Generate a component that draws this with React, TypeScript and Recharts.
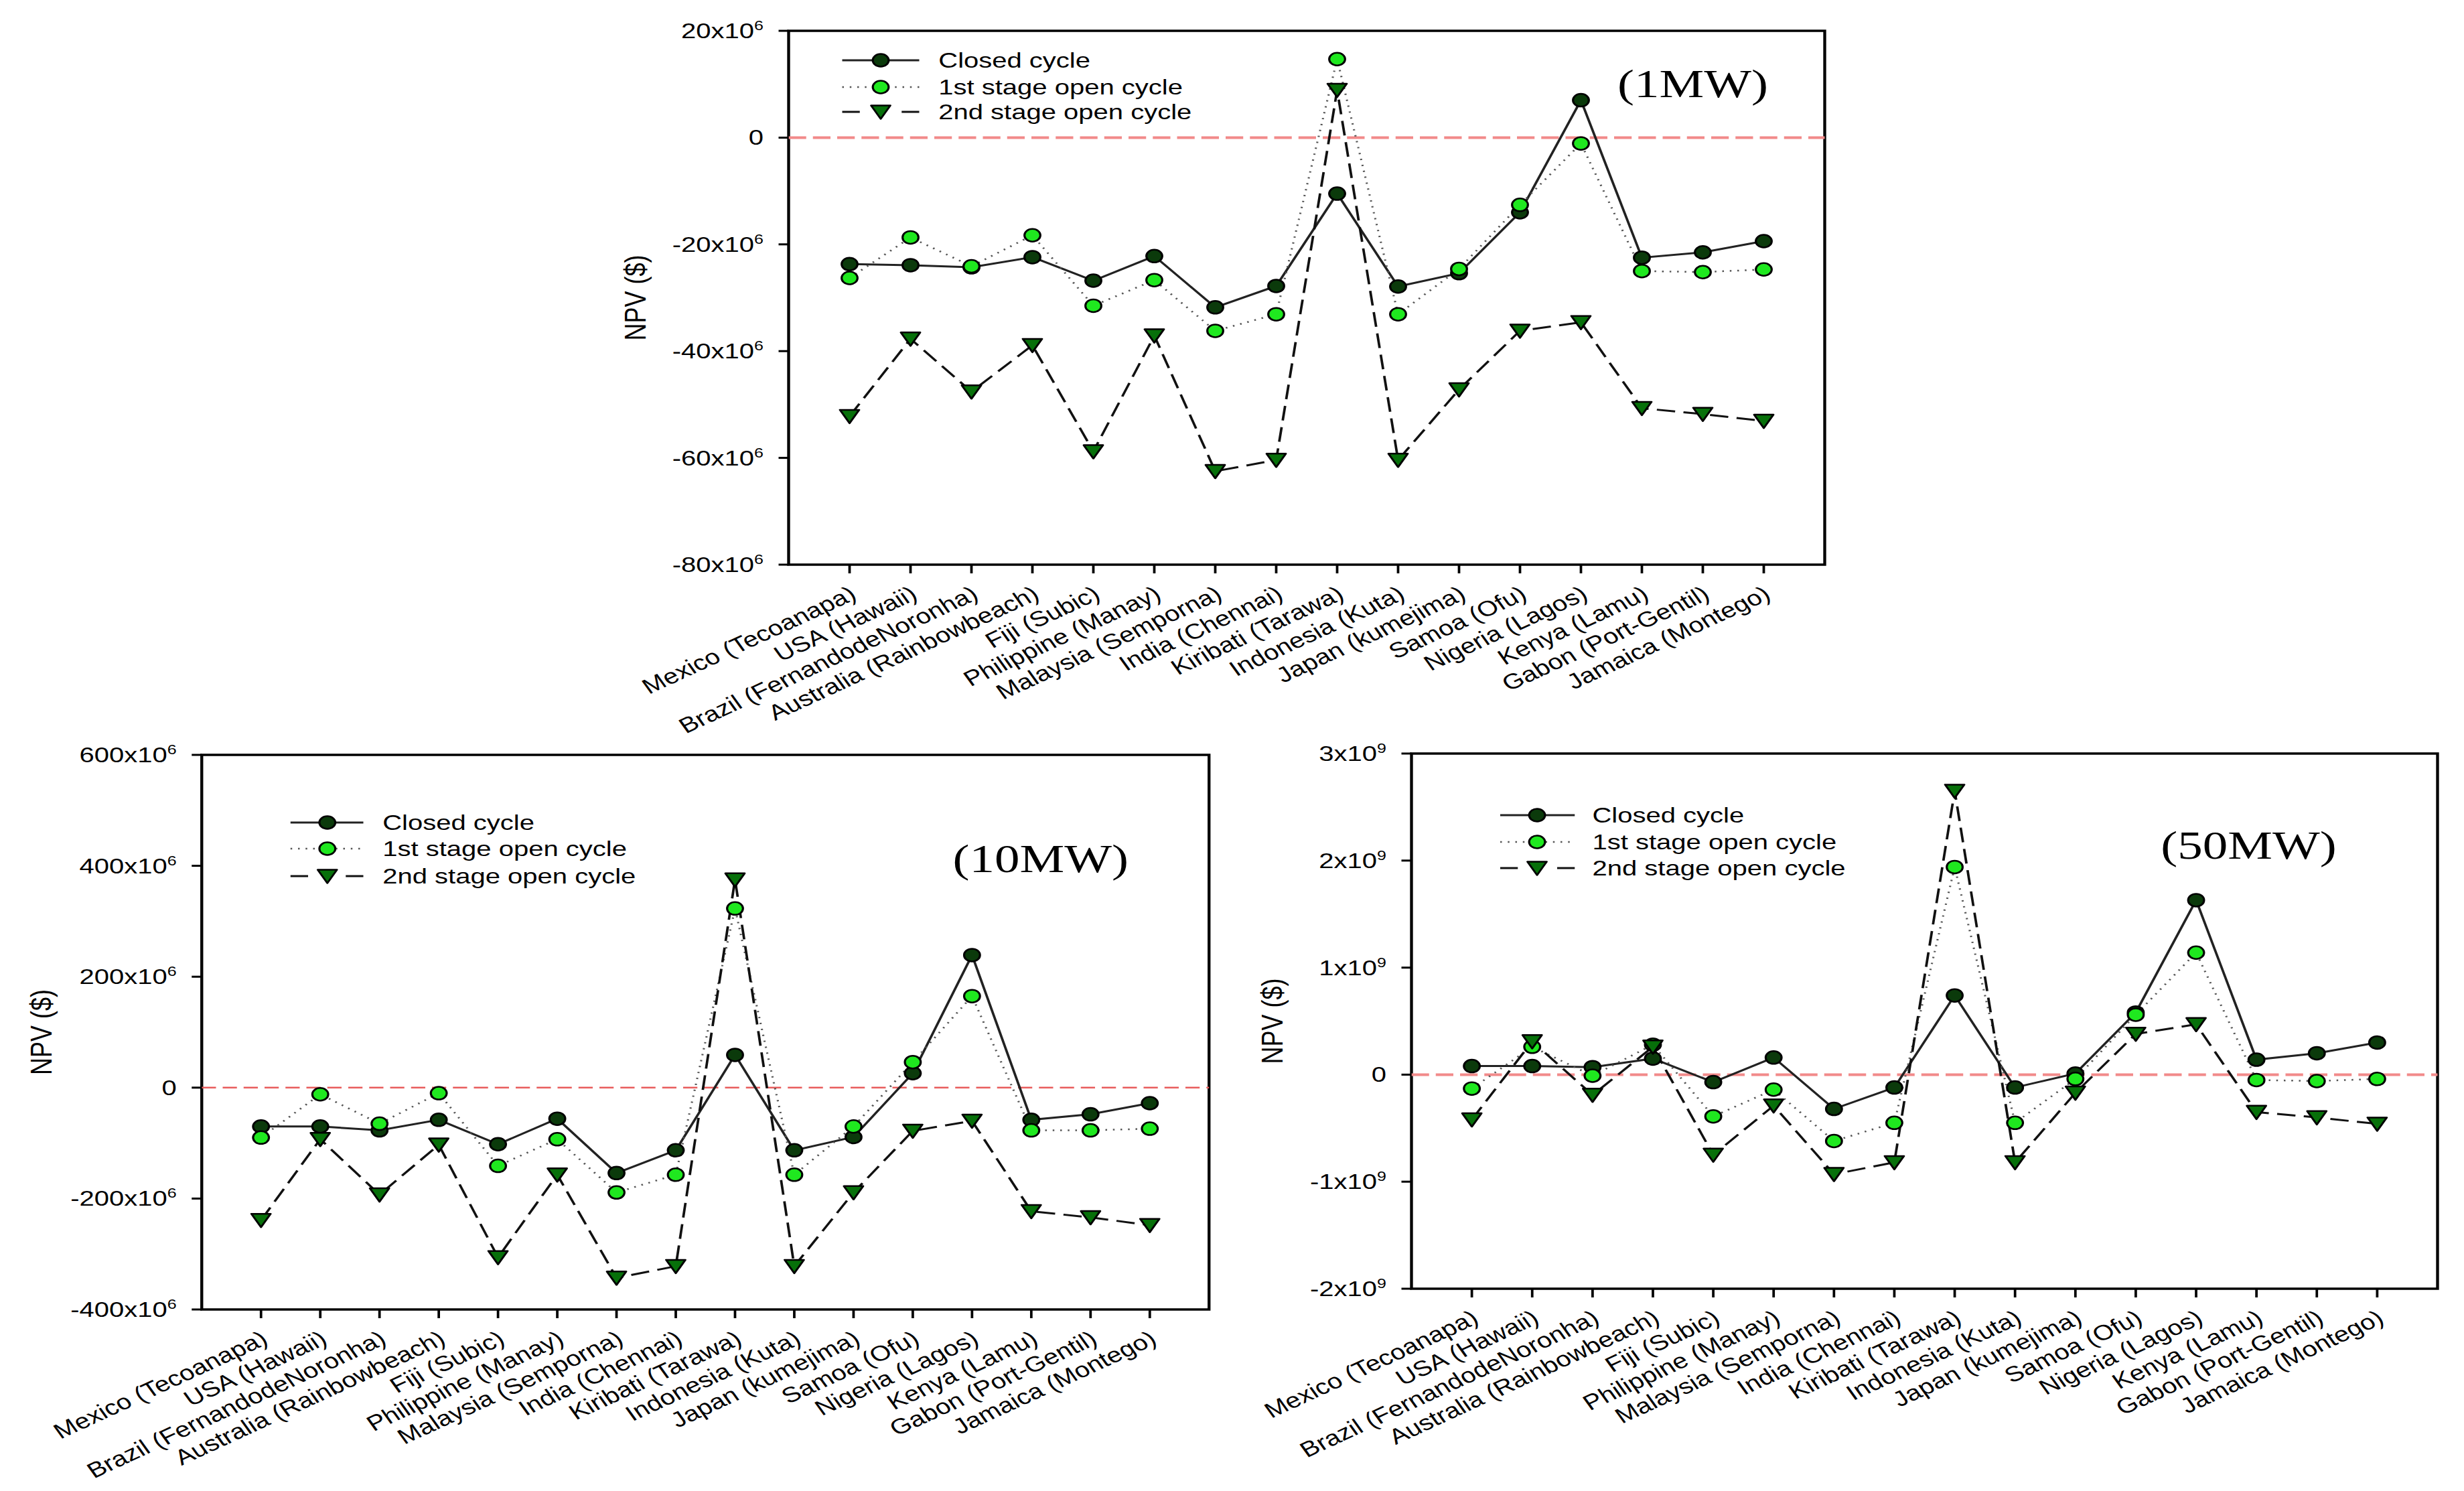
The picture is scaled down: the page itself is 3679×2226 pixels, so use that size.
import React from 'react';
import { LineChart, Line, XAxis, YAxis, ReferenceLine, ReferenceArea, Legend, Label } from 'recharts';

// The source figure is horizontally stretched; we draw in unstretched space and stretch the page.
const SX = 1.25;
const FONT = '"Liberation Sans", Arial, Helvetica, sans-serif';
const SERIF = '"Liberation Serif", "Times New Roman", serif';

const categories = [
  'Mexico (Tecoanapa)',
  'USA (Hawaii)',
  'Brazil (FernandodeNoronha)',
  'Australia (Rainbowbeach)',
  'Fiji (Subic)',
  'Philippine (Manay)',
  'Malaysia (Semporna)',
  'India (Chennai)',
  'Kiribati (Tarawa)',
  'Indonesia (Kuta)',
  'Japan (kumejima)',
  'Samoa (Ofu)',
  'Nigeria (Lagos)',
  'Kenya (Lamu)',
  'Gabon (Port-Gentil)',
  'Jamaica (Montego)',
];

const seriesNames = ['Closed cycle', '1st stage open cycle', '2nd stage open cycle'];

// 1 MW, values in 10^6 $
const closed1MW = [-23.7, -23.9, -24.3, -22.4, -26.8, -22.2, -31.8, -27.8, -10.5, -27.9, -25.4, -14.0, 7.0, -22.5, -21.5, -19.4];
const first1MW = [-26.3, -18.7, -24.1, -18.3, -31.5, -26.7, -36.2, -33.1, 14.7, -33.1, -24.6, -12.6, -1.1, -25.0, -25.2, -24.7];
const second1MW = [-52.2, -37.7, -47.6, -38.9, -58.8, -37.1, -62.5, -60.4, 8.9, -60.4, -47.2, -36.2, -34.6, -50.7, -51.8, -53.1];
const yTicks1MW = [20, 0, -20, -40, -60, -80];

// 10 MW, values in 10^6 $
const closed10MW = [-70, -70, -77, -58, -102, -56, -154, -113, 59, -113, -89, 26, 239, -58, -48, -28];
const first10MW = [-90, -12, -65, -10, -141, -93, -189, -157, 323, -157, -70, 46, 165, -77, -77, -74];
const second10MW = [-239, -93, -193, -103, -306, -157, -343, -322, 375, -322, -189, -78, -60, -223, -234, -248];
const yTicks10MW = [600, 400, 200, 0, -200, -400];

// 50 MW, values in 10^9 $
const closed50MW = [0.08, 0.08, 0.07, 0.15, -0.07, 0.16, -0.32, -0.12, 0.74, -0.12, 0.01, 0.58, 1.63, 0.14, 0.2, 0.3];
const first50MW = [-0.13, 0.26, -0.01, 0.28, -0.39, -0.14, -0.62, -0.45, 1.94, -0.45, -0.04, 0.56, 1.14, -0.05, -0.06, -0.04];
const second50MW = [-0.42, 0.31, -0.19, 0.26, -0.75, -0.29, -0.93, -0.82, 2.65, -0.82, -0.17, 0.38, 0.47, -0.35, -0.4, -0.46];
const yTicks50MW = [3, 2, 1, 0, -1, -2];

const catIndex = categories.map((_, i) => i);

const DARK = '#0b3a0b';
const LIGHT = '#1fe81f';
const MID = '#07700a';

const circleDot = (fill: string) => (props: any) => {
  const { cx, cy, index } = props;
  if (cx == null || cy == null) return <g key={`n-${index}`} />;
  return <circle key={`c-${fill}-${index}`} cx={cx} cy={cy} r={9.5} fill={fill} stroke="#000" strokeWidth={2.5} />;
};

const triPoints = (cx: number, cy: number) => `${cx - 11.5},${cy - 9.5} ${cx + 11.5},${cy - 9.5} ${cx},${cy + 10.5}`;

const triDot = (props: any) => {
  const { cx, cy, index } = props;
  if (cx == null || cy == null) return <g key={`n-${index}`} />;
  return <polygon key={`t-${index}`} points={triPoints(cx, cy)} fill={MID} stroke="#000" strokeWidth={2.5} strokeLinejoin="round" />;
};

const XTick = (props: any) => {
  const { x, y, payload } = props;
  const bx = x + 10;
  const by = y + 37;
  return (
    <text
      x={bx}
      y={by}
      transform={`rotate(-30, ${bx}, ${by})`}
      textAnchor="end"
      fontFamily={FONT}
      fontSize={32}
      fill="#000"
    >
      {categories[payload.value]}
    </text>
  );
};

const makeYTick = (exp: number) => (props: any) => {
  const { x, y, payload } = props;
  const v = payload.value;
  if (v === 0) {
    return (
      <text x={x} y={y} dy={11} textAnchor="end" fontFamily={FONT} fontSize={32} fill="#000">
        0
      </text>
    );
  }
  return (
    <text x={x} y={y} dy={11} textAnchor="end" fontFamily={FONT} fontSize={32} fill="#000">
      {`${v}x10`}
      <tspan dy={-12} fontSize={20}>
        {String(exp)}
      </tspan>
    </text>
  );
};

type LegendGeom = { x1: number; x2: number; mx: number; tx: number; rows: number[] };

type PanelProps = {
  plotLeft: number;
  plotTop: number;
  plotW: number;
  plotH: number;
  yMin: number;
  yMax: number;
  yTicks: number[];
  exp: number;
  closed: number[];
  first: number[];
  second: number[];
  xh: number;
  legend: LegendGeom;
  title: string;
  titleX: number;
  titleY: number;
  yLabelX: number;
  refStroke: string;
  refWidth: number;
  refDash: string;
};

function Panel(p: PanelProps) {
  const YW = 230;
  const MT = 40;
  const MR = 10;
  const width = YW + p.plotW + MR;
  const height = MT + p.plotH + p.xh;
  const data = categories.map((c, i) => ({ i, name: c, closed: p.closed[i], first: p.first[i], second: p.second[i] }));
  const lg = p.legend;

  const legendContent = () => (
    <svg width={p.plotW} height={p.plotH} style={{ overflow: 'visible', pointerEvents: 'none', display: 'block' }}>
      {/* Closed cycle */}
      <line x1={lg.x1} x2={lg.x2} y1={lg.rows[0]} y2={lg.rows[0]} stroke="#222" strokeWidth={3} />
      <circle cx={lg.mx} cy={lg.rows[0]} r={9.5} fill={DARK} stroke="#000" strokeWidth={2.5} />
      <text x={lg.tx} y={lg.rows[0] + 11} fontFamily={FONT} fontSize={32} fill="#000">
        {seriesNames[0]}
      </text>
      {/* 1st stage */}
      <line x1={lg.x1} x2={lg.x2} y1={lg.rows[1]} y2={lg.rows[1]} stroke="#555" strokeWidth={2.5} strokeDasharray="2 7" />
      <circle cx={lg.mx} cy={lg.rows[1]} r={9.5} fill={LIGHT} stroke="#000" strokeWidth={2.5} />
      <text x={lg.tx} y={lg.rows[1] + 11} fontFamily={FONT} fontSize={32} fill="#000">
        {seriesNames[1]}
      </text>
      {/* 2nd stage */}
      <line x1={lg.x1} x2={lg.x1 + 21} y1={lg.rows[2]} y2={lg.rows[2]} stroke="#111" strokeWidth={3} />
      <line x1={lg.x2 - 21} x2={lg.x2} y1={lg.rows[2]} y2={lg.rows[2]} stroke="#111" strokeWidth={3} />
      <polygon points={triPoints(lg.mx, lg.rows[2])} fill={MID} stroke="#000" strokeWidth={2.5} strokeLinejoin="round" />
      <text x={lg.tx} y={lg.rows[2] + 11} fontFamily={FONT} fontSize={32} fill="#000">
        {seriesNames[2]}
      </text>
      <text x={p.titleX} y={p.titleY} textAnchor="middle" fontFamily={SERIF} fontSize={60} fill="#000">
        {p.title}
      </text>
    </svg>
  );

  const yLabel = () => (
    <text
      x={YW + p.yLabelX}
      y={MT + p.plotH / 2}
      transform={`rotate(-90, ${YW + p.yLabelX}, ${MT + p.plotH / 2})`}
      textAnchor="middle"
      dominantBaseline="central"
      fontFamily={FONT}
      fontSize={36}
      fill="#000"
    >
      NPV ($)
    </text>
  );

  return (
    <div style={{ position: 'absolute', left: p.plotLeft - YW, top: p.plotTop - MT }}>
      <LineChart width={width} height={height} data={data} margin={{ top: MT, right: MR, left: 0, bottom: 0 }}>
        <XAxis
          dataKey="i"
          type="number"
          domain={[-1, 16]}
          ticks={catIndex}
          interval={0}
          tick={<XTick />}
          tickSize={13}
          tickMargin={0}
          axisLine={false}
          tickLine={{ stroke: '#000', strokeWidth: 3 }}
          height={p.xh}
          allowDataOverflow
        />
        <YAxis
          type="number"
          domain={[p.yMin, p.yMax]}
          ticks={p.yTicks}
          interval={0}
          width={YW}
          tick={makeYTick(p.exp)}
          tickSize={12}
          tickMargin={18}
          axisLine={false}
          tickLine={{ stroke: '#000', strokeWidth: 3 }}
          allowDataOverflow
        >
          <Label content={yLabel} />
        </YAxis>
        <ReferenceLine y={0} stroke={p.refStroke} strokeWidth={p.refWidth} strokeDasharray={p.refDash} ifOverflow="visible" />
        <ReferenceArea
          x1={-1}
          x2={16}
          y1={p.yMin}
          y2={p.yMax}
          fill="none"
          fillOpacity={0}
          stroke="#000"
          strokeWidth={3.5}
          strokeOpacity={1}
          ifOverflow="visible"
        />
        <Line
          dataKey="closed"
          name={seriesNames[0]}
          stroke="#222"
          strokeWidth={3}
          dot={circleDot(DARK)}
          activeDot={false}
          isAnimationActive={false}
        />
        <Line
          dataKey="first"
          name={seriesNames[1]}
          stroke="#555"
          strokeWidth={2.5}
          strokeDasharray="2 7"
          dot={circleDot(LIGHT)}
          activeDot={false}
          isAnimationActive={false}
        />
        <Line
          dataKey="second"
          name={seriesNames[2]}
          stroke="#111"
          strokeWidth={3}
          strokeDasharray="22 10"
          dot={triDot}
          activeDot={false}
          isAnimationActive={false}
        />
        <Legend
          layout="horizontal"
          verticalAlign="middle"
          align="center"
          content={legendContent}
          wrapperStyle={{ left: YW, top: MT, width: p.plotW, height: p.plotH, pointerEvents: 'none' }}
        />
      </LineChart>
    </div>
  );
}

export default function App() {
  return (
    <div
      style={{
        position: 'absolute',
        left: 0,
        top: 0,
        width: 3679 / SX,
        height: 2226,
        background: '#fff',
        transform: `scaleX(${SX})`,
        transformOrigin: '0 0',
        overflow: 'visible',
      }}
    >
      <Panel
        plotLeft={942.4}
        plotTop={46}
        plotW={1237.6}
        plotH={797}
        yMin={-80}
        yMax={20}
        yTicks={yTicks1MW}
        exp={6}
        closed={closed1MW}
        first={first1MW}
        second={second1MW}
        xh={320}
        legend={{ x1: 64, x2: 156, mx: 110, tx: 179, rows: [44, 84, 121] }}
        title="(1MW)"
        titleX={1080}
        titleY={99}
        yLabelX={-183}
        refStroke="#F28A8A"
        refWidth={4}
        refDash="21 8"
      />
      <Panel
        plotLeft={240.8}
        plotTop={1127}
        plotW={1203.2}
        plotH={828}
        yMin={-400}
        yMax={600}
        yTicks={yTicks10MW}
        exp={6}
        closed={closed10MW}
        first={first10MW}
        second={second10MW}
        xh={265}
        legend={{ x1: 106, x2: 193, mx: 150, tx: 216, rows: [101, 140, 181] }}
        title="(10MW)"
        titleX={1002}
        titleY={175}
        yLabelX={-192}
        refStroke="#E85C5C"
        refWidth={2.5}
        refDash="17 8"
      />
      <Panel
        plotLeft={1686.4}
        plotTop={1125}
        plotW={1225.6}
        plotH={799}
        yMin={-2}
        yMax={3}
        yTicks={yTicks50MW}
        exp={9}
        closed={closed50MW}
        first={first50MW}
        second={second50MW}
        xh={265}
        legend={{ x1: 106, x2: 195, mx: 150, tx: 216, rows: [92, 132, 171] }}
        title="(50MW)"
        titleX={1000}
        titleY={157}
        yLabelX={-166}
        refStroke="#F28A8A"
        refWidth={4}
        refDash="21 8"
      />
    </div>
  );
}
